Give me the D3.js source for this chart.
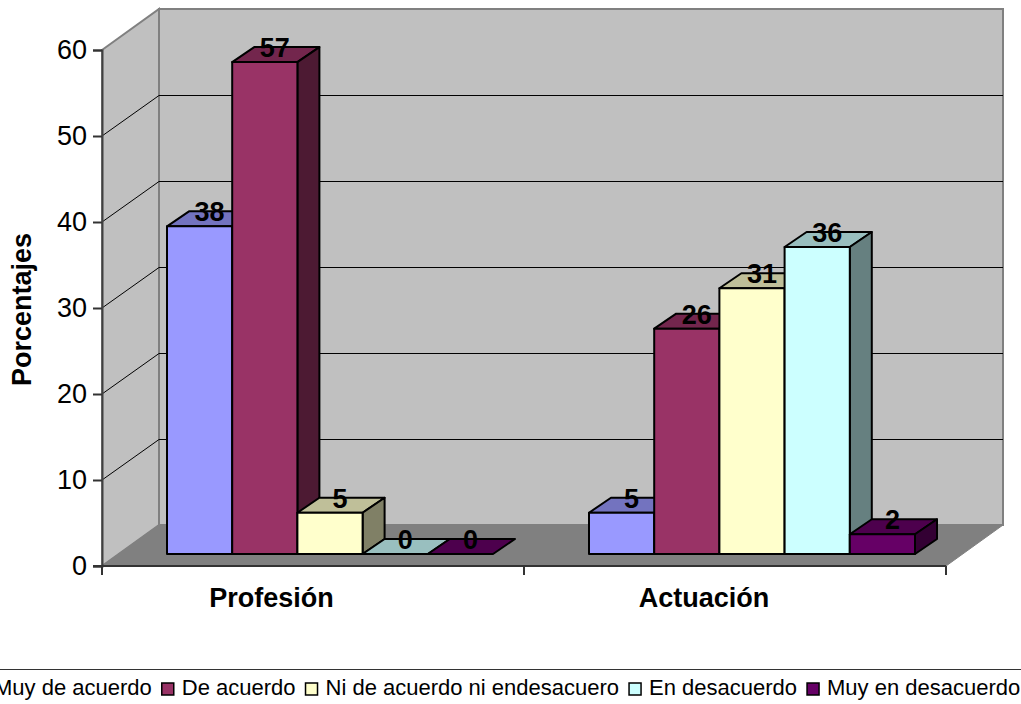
<!DOCTYPE html>
<html>
<head>
<meta charset="utf-8">
<script src="https://cdn.jsdelivr.net/npm/d3@7"></script>
<style>
  html, body { margin: 0; padding: 0; background: #fff; overflow: hidden; }
  text { font-family: "Liberation Sans", Arial, sans-serif; fill: #000; }
</style>
</head>
<body>
<div id="chart"></div>
<script>
// Data
const categories = ["Profesión", "Actuación"];
const seriesNames = ["Muy de acuerdo", "De acuerdo", "Ni de acuerdo ni endesacuero", "En desacuerdo", "Muy en desacuerdo"];
const seriesColors = ["#9999ff", "#993366", "#ffffcc", "#ccffff", "#660066"];
const profesionValues = [38.1, 57.2, 4.8, 0, 0];
const actuacionValues = [4.8, 26.2, 30.9, 35.7, 2.3];
const yTicks = [0, 10, 20, 30, 40, 50, 60];

const width = 1021, height = 704;
const svg = d3.select("#chart").append("svg")
    .attr("width", width)
    .attr("height", height)
    .style("display", "block");

// Front plane of the 3D box, and how far the back wall is shifted from it
const left = 102, right = 946, floorY = 566, topY = 50;
const wallDx = 57, wallDy = -41;
// Bars stand a little behind the front edge and have their own depth
const barInsetY = 12, barDx = 22, barDy = -15;

const y = d3.scaleLinear().domain([0, 60]).range([floorY, topY]);
const barY = d3.scaleLinear().domain([0, 60]).range([floorY - barInsetY, topY - barInsetY]);
const x = d3.scaleBand().domain(categories).range([left, right]);
const xSeries = d3.scaleBand().domain(seriesNames).range([65, 391]);

const poly = pts => pts.map(p => p.join(",")).join(" ");

// Walls
svg.append("polygon")
    .attr("points", poly([[left, y(60)], [left + wallDx, y(60) + wallDy], [left + wallDx, floorY + wallDy], [left, floorY]]))
    .attr("fill", "#c0c0c0").attr("stroke", "#808080").attr("stroke-width", 2);
svg.append("polygon")
    .attr("points", poly([[left + wallDx, y(60) + wallDy], [right + wallDx, y(60) + wallDy], [right + wallDx, floorY + wallDy], [left + wallDx, floorY + wallDy]]))
    .attr("fill", "#c0c0c0").attr("stroke", "#808080").attr("stroke-width", 2);

// Gridlines on side wall and back wall
const grid = svg.append("g").attr("fill", "none").attr("stroke", "#000").attr("stroke-width", 1);
yTicks.filter(t => t > 0 && t < 60).forEach(t => {
    grid.append("polyline")
        .attr("points", poly([[left, y(t)], [left + wallDx, Math.round(y(t) + wallDy) + 0.5], [right + wallDx, Math.round(y(t) + wallDy) + 0.5]]));
});

// Floor
svg.append("polygon")
    .attr("points", poly([[left, floorY], [left + wallDx, floorY + wallDy], [right + wallDx, floorY + wallDy], [right, floorY]]))
    .attr("fill", "#808080").attr("stroke", "#808080");

// Bars: front, top and side faces
const rows = [profesionValues, actuacionValues];
categories.forEach((cat, c) => {
    const g = svg.append("g").attr("stroke", "#000").attr("stroke-width", 2).attr("stroke-linejoin", "round");
    seriesNames.forEach((name, s) => {
        const v = rows[c][s];
        const x0 = x(cat) + xSeries(name), x1 = x0 + xSeries.bandwidth();
        const y0 = barY(0), y1 = barY(v);
        const col = d3.color(seriesColors[s]);
        const shade = k => d3.rgb(col.r * k, col.g * k, col.b * k).formatHex();
        // top
        g.append("polygon")
            .attr("points", poly([[x0, y1], [x0 + barDx, y1 + barDy], [x1 + barDx, y1 + barDy], [x1, y1]]))
            .attr("fill", shade(0.75));
        if (v > 0) {
            // side
            g.append("polygon")
                .attr("points", poly([[x1, y1], [x1 + barDx, y1 + barDy], [x1 + barDx, y0 + barDy], [x1, y0]]))
                .attr("fill", shade(0.5));
            // front
            g.append("rect")
                .attr("x", x0).attr("y", y1)
                .attr("width", x1 - x0).attr("height", y0 - y1)
                .attr("fill", seriesColors[s]);
        }
    });
});

// Value labels go on top of every bar
categories.forEach((cat, c) => {
    svg.append("g").selectAll("text")
        .data(seriesNames)
        .join("text")
        .attr("x", name => x(cat) + xSeries(name) + xSeries.bandwidth() / 2 + 10)
        .attr("y", (name, s) => barY(rows[c][s]) - 5)
        .attr("text-anchor", "middle")
        .style("font-size", "27px")
        .style("font-weight", "bold")
        .text((name, s) => Math.round(rows[c][s]));
});

// Y axis
const yAxis = svg.append("g")
    .attr("transform", `translate(${left},0)`)
    .call(d3.axisLeft(y).tickValues(yTicks).tickSize(9).tickPadding(6));
yAxis.selectAll("line").attr("stroke", "#333").attr("stroke-width", 2);
yAxis.select(".domain").attr("stroke", "#404040").attr("stroke-width", 2);
yAxis.selectAll("text").style("font-size", "27px").style("font-family", '"Liberation Sans"').attr("fill", "#000");

// X axis line and ticks at category edges
const xAxis = svg.append("g").attr("stroke", "#333").attr("stroke-width", 2);
xAxis.append("line").attr("x1", left - 9).attr("x2", right).attr("y1", floorY).attr("y2", floorY);
[x(categories[0]), x(categories[1]), right].forEach(px => {
    xAxis.append("line").attr("x1", px).attr("x2", px).attr("y1", floorY).attr("y2", floorY + 9);
});

const labelX = d3.scaleOrdinal(categories, [271.5, 704]);
svg.append("g").selectAll("text")
    .data(categories)
    .join("text")
    .attr("x", d => labelX(d))
    .attr("y", 607)
    .attr("text-anchor", "middle")
    .style("font-size", "27px")
    .style("font-weight", "bold")
    .text(d => d);

// Y axis title
svg.append("text")
    .attr("transform", "translate(31,309.5) rotate(-90)")
    .attr("text-anchor", "middle")
    .style("font-size", "27px")
    .style("font-weight", "bold")
    .text("Porcentajes");

// Legend: rule above it, then swatches and names flowing left to right
svg.append("line").attr("x1", 0).attr("x2", width).attr("y1", 669.5).attr("y2", 669.5)
    .attr("stroke", "#333").attr("stroke-width", 1);
let legendX = -6;
seriesNames.forEach((name, s) => {
    if (s > 0) {
        svg.append("rect")
            .attr("x", legendX + 1).attr("y", 683).attr("width", 12).attr("height", 12)
            .attr("fill", seriesColors[s]).attr("stroke", "#000").attr("stroke-width", 1.5);
        legendX += 21;
    }
    const t = svg.append("text")
        .attr("x", legendX).attr("y", 695)
        .style("font-size", "22px")
        .text(name);
    legendX += t.node().getComputedTextLength() + 9;
});
</script>
</body>
</html>
